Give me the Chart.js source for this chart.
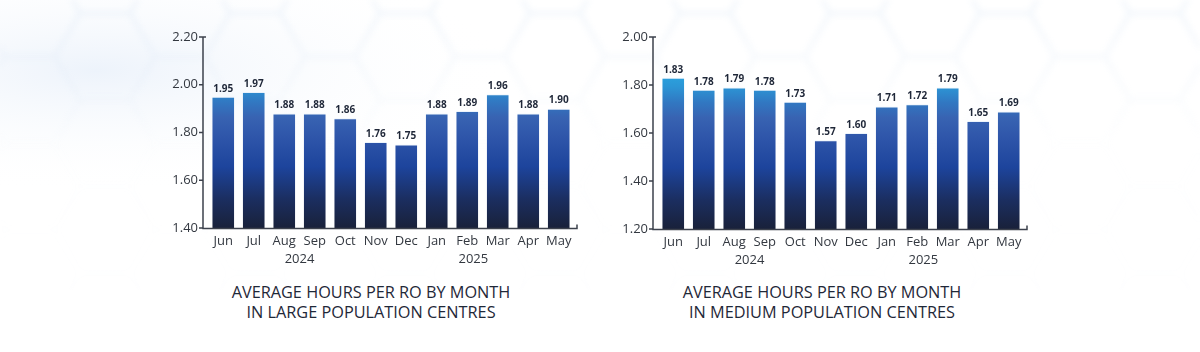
<!DOCTYPE html>
<html><head><meta charset="utf-8">
<script src="https://cdn.jsdelivr.net/npm/chart.js@4.4.1/dist/chart.umd.min.js"></script>
<style>
html,body{margin:0;padding:0;width:1200px;height:352px;overflow:hidden;background:#fff;font-family:"Open Sans",sans-serif;}
#bg{position:absolute;left:0;top:0;}
canvas{position:absolute;top:0;}
.title{position:absolute;width:440px;text-align:center;font-weight:400;font-size:16.3px;line-height:20px;color:#1f2838;top:282px;white-space:nowrap;}
</style></head>
<body>
<svg id="bg" width="1200" height="352" xmlns="http://www.w3.org/2000/svg">
  <defs>
    <pattern id="hex" width="150" height="86.6" patternUnits="userSpaceOnUse" x="-20" y="-30">
      <path d="M0,43.3 L25,0 L75,0 L100,43.3 L75,86.6 L25,86.6 Z M100,43.3 L150,43.3" fill="none" stroke="#c9dcf1" stroke-width="3"/>
    </pattern>
    <linearGradient id="fade" x1="0" y1="0" x2="0" y2="1">
      <stop offset="0" stop-color="#fff" stop-opacity="1"/>
      <stop offset="0.4" stop-color="#fff" stop-opacity="0.1"/>
      <stop offset="1" stop-color="#fff" stop-opacity="0"/>
    </linearGradient>
    <mask id="m"><rect width="1200" height="352" fill="url(#fade)"/></mask>
    <filter id="blur"><feGaussianBlur stdDeviation="3"/></filter>
    <radialGradient id="haze" cx="0.08" cy="0.2" r="0.35">
      <stop offset="0" stop-color="#edf3fb"/>
      <stop offset="1" stop-color="#ffffff" stop-opacity="0"/>
    </radialGradient>
  </defs>
  <rect width="1200" height="352" fill="url(#haze)"/>
  <rect width="1200" height="352" fill="url(#hex)" mask="url(#m)" filter="url(#blur)" opacity="0.35"/>
</svg>
<canvas id="c1" width="440" height="275" style="left:150px"></canvas>
<canvas id="c2" width="440" height="276" style="left:600px"></canvas>
<div class="title" style="left:151px">AVERAGE HOURS PER RO BY MONTH<br>IN LARGE POPULATION CENTRES</div>
<div class="title" style="left:602px">AVERAGE HOURS PER RO BY MONTH<br>IN MEDIUM POPULATION CENTRES</div>
<script>
// ---- data ----
const months = ['Jun','Jul','Aug','Sep','Oct','Nov','Dec','Jan','Feb','Mar','Apr','May'];
const years = ['2024','2025'];
const largeValues = [1.95,1.97,1.88,1.88,1.86,1.76,1.75,1.88,1.89,1.96,1.88,1.90];
const mediumValues = [1.83,1.78,1.79,1.78,1.73,1.57,1.60,1.71,1.72,1.79,1.65,1.69];
const largeTicks = [1.40,1.60,1.80,2.00,2.20];
const mediumTicks = [1.20,1.40,1.60,1.80,2.00];

Chart.defaults.font.family = '"Open Sans", sans-serif';
Chart.defaults.color = '#333840';

function barGradient(ctx){
  const chart = ctx.chart; const a = chart.chartArea;
  if(!a) return '#2a5db0';
  const g = chart.ctx.createLinearGradient(0, a.bottom, 0, a.top);
  g.addColorStop(0.00,'#19213a');
  g.addColorStop(0.15,'#1b2e60');
  g.addColorStop(0.32,'#1d449c');
  g.addColorStop(0.48,'#2f56aa');
  g.addColorStop(0.58,'#3863b2');
  g.addColorStop(0.66,'#3178c2');
  g.addColorStop(0.74,'#2c95d5');
  g.addColorStop(0.82,'#2aa7e1');
  g.addColorStop(1.00,'#2fb4ec');
  return g;
}

const valueLabels = {id:'valueLabels', afterDatasetsDraw(chart){
  const c = chart.ctx; const meta = chart.getDatasetMeta(0); const d = chart.data.datasets[0].data;
  c.save(); c.font = 'bold 10px "Open Sans"'; c.fillStyle = '#1f2738';
  c.textAlign = 'center'; c.textBaseline = 'bottom';
  meta.data.forEach((bar,i)=>{ c.fillText(d[i].toFixed(2), bar.x, bar.y - 3); });
  c.restore();
}};

const axisLines = {id:'axisLines', afterDraw(chart){
  const a = chart.chartArea; const ys = chart.scales.y; const c = chart.ctx;
  const x0 = a.left - 5, x1 = a.right + 3, yb = a.bottom + 0.5;
  c.save(); c.strokeStyle = '#3c414c'; c.lineWidth = 1.5; c.beginPath();
  c.moveTo(x0, a.top); c.lineTo(x0, yb); c.lineTo(x1, yb); c.lineTo(x1, yb - 4);
  ys.ticks.forEach(t=>{ const py = ys.getPixelForValue(t.value); c.moveTo(x0 - 4, py); c.lineTo(x0, py); });
  c.moveTo(x0, a.top); c.lineTo(x0 + 3, a.top);
  c.stroke(); c.restore();
}};

const yearLabels = {id:'yearLabels', afterDraw(chart, args, opts){
  const c = chart.ctx; const xs = chart.scales.x; const a = chart.chartArea;
  c.save(); c.font = '13px "Open Sans"'; c.fillStyle = '#333840'; c.textAlign = 'center'; c.textBaseline = 'middle';
  opts.labels.forEach((lab,i)=>{ c.fillText(lab, xs.getPixelForValue(opts.at[i]), a.bottom + 31); });
  c.restore();
}};

function makeChart(id, values, tickVals){
  return new Chart(document.getElementById(id), {
    type:'bar',
    data:{ labels: months, datasets:[{ data: values, backgroundColor: barGradient,
      borderColor:'rgba(220,235,250,0.55)', borderWidth:{top:1,left:0,right:0,bottom:0}, borderSkipped:false,
      barPercentage:0.72, categoryPercentage:1 }]},
    options:{
      responsive:false, animation:false, devicePixelRatio:1,
      layout:{ padding:{ top:37, right:16, left:0, bottom:0 } },
      plugins:{ legend:{display:false}, tooltip:{enabled:false},
        yearLabels:{ labels: years, at:[2.5, 8.2] } },
      scales:{
        x:{ grid:{display:false, drawTicks:false}, border:{display:false},
            ticks:{ font:{size:13}, color:'#333840', padding:5, maxRotation:0 },
            afterFit(s){ s.height = 47; } },
        y:{ min: tickVals[0], max: tickVals[tickVals.length-1],
            grid:{display:false, drawTicks:false}, border:{display:false},
            afterBuildTicks(s){ s.ticks = tickVals.map(v=>({value:v})); },
            ticks:{ font:{size:13}, color:'#333840', padding:10, callback:v=>Number(v).toFixed(2) },
            afterFit(s){ s.width = 58; } }
      }
    },
    plugins:[valueLabels, axisLines, yearLabels]
  });
}
makeChart('c1', largeValues, largeTicks);
makeChart('c2', mediumValues, mediumTicks);
</script>
</body></html>
